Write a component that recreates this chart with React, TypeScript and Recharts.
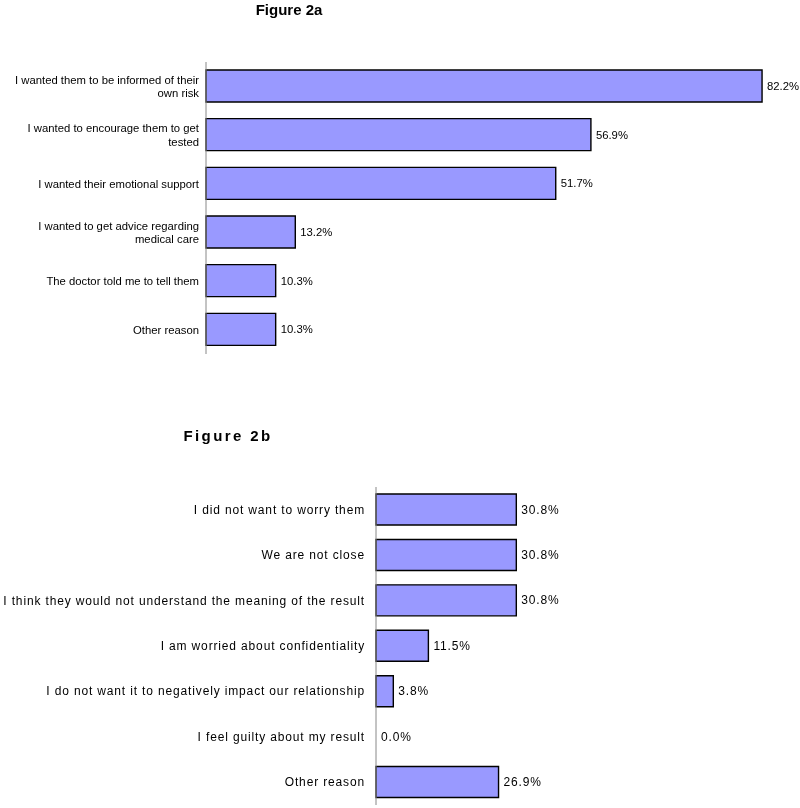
import React from "react"
import { BarChart, Bar, XAxis, YAxis, Rectangle } from "recharts"

const reasonsTold = [
  "I wanted them to be informed of their own risk",
  "I wanted to encourage them to get tested",
  "I wanted their emotional support",
  "I wanted to get advice regarding medical care",
  "The doctor told me to tell them",
  "Other reason",
]
const toldPct = [82.2, 56.9, 51.7, 13.2, 10.3, 10.3]

const reasonsNotTold = [
  "I did not want to worry them",
  "We are not close",
  "I think they would not understand the meaning of the result",
  "I am worried about confidentiality",
  "I do not want it to negatively impact our relationship",
  "I feel guilty about my result",
  "Other reason",
]
const notToldPct = [30.8, 30.8, 30.8, 11.5, 3.8, 0.0, 26.9]

const dataA = reasonsTold.map((reason, i) => ({ reason, pct: toldPct[i] }))
const dataB = reasonsNotTold.map((reason, i) => ({ reason, pct: notToldPct[i] }))

const FONT = "'Liberation Sans', Arial, sans-serif"

let ctx: CanvasRenderingContext2D | null = null
function measure(s: string, size: number, spacing: number) {
  if (!ctx) ctx = document.createElement("canvas").getContext("2d")
  if (!ctx) return s.length * size * 0.5
  ctx.font = `${size}px 'Liberation Sans', Arial, sans-serif`
  return ctx.measureText(s).width + s.length * spacing
}

function wrapWords(text: string, maxW: number, size: number, spacing: number) {
  const lines: string[] = []
  let cur = ""
  for (const w of text.split(" ")) {
    const test = cur ? cur + " " + w : w
    if (cur && measure(test, size, spacing) > maxW) {
      lines.push(cur)
      cur = w
    } else cur = test
  }
  if (cur) lines.push(cur)
  return lines
}

function WrapTick({ x, y, payload, wrap, size, spacing }: any) {
  const lines = wrapWords(String(payload.value), wrap, size, spacing)
  const lh = 13.5
  const top = y + 4 - ((lines.length - 1) * lh) / 2
  return (
    <text x={x} y={top} textAnchor="end" fontSize={size} fontFamily={FONT} fill="#000" style={{ letterSpacing: spacing }}>
      {lines.map((l, i) => (
        <tspan key={i} x={x} y={top + i * lh}>
          {l}
        </tspan>
      ))}
    </text>
  )
}

// bar + its value label, so a 0% row still gets its label
function BarWithLabel(props: any) {
  const { x, y, width, height, value, size, spacing } = props
  const v = Array.isArray(value) ? value[1] - value[0] : value
  return (
    <g>
      {width > 0 && (
        <Rectangle x={x} y={y} width={width} height={height} fill="#9999ff" stroke="#000" strokeWidth={1.4} />
      )}
      <text
        x={x + width + 5}
        y={y + height / 2 + 4}
        fontSize={size}
        fontFamily={FONT}
        fill="#000"
        style={{ letterSpacing: spacing }}
      >
        {`${Number(v).toFixed(1)}%`}
      </text>
    </g>
  )
}

export default function App() {
  return (
    <div style={{ position: "fixed", left: 0, top: 8, width: 800, height: 800, fontFamily: FONT }}>
      <div style={{ position: "absolute", left: 0, top: 0 }}>
        <BarChart
          width={800}
          height={360}
          layout="vertical"
          data={dataA}
          margin={{ top: 54, right: 19, bottom: 14, left: 0 }}
          barSize={32}
        >
          <XAxis type="number" domain={[0, 85]} hide />
          <YAxis
            type="category"
            dataKey="reason"
            width={206}
            axisLine={{ stroke: "#888" }}
            tickLine={false}
            tickSize={0}
            tickMargin={7}
            interval={0}
            tick={<WrapTick wrap={192} size={11.3} spacing={0} />}
          />
          <Bar
            dataKey="pct"
            fill="#9999ff"
            isAnimationActive={false}
            shape={<BarWithLabel size={11.3} spacing={0} />}
          />
        </BarChart>
      </div>

      <div style={{ position: "absolute", left: 0, top: 432 }}>
        <BarChart
          width={800}
          height={368}
          layout="vertical"
          data={dataB}
          margin={{ top: 47, right: 14, bottom: 3, left: 0 }}
          barSize={31}
        >
          <XAxis type="number" domain={[0, 90]} hide />
          <YAxis
            type="category"
            dataKey="reason"
            width={376}
            axisLine={{ stroke: "#888" }}
            tickLine={false}
            tickSize={0}
            tickMargin={11}
            interval={0}
            tick={<WrapTick wrap={420} size={12} spacing={0.85} />}
          />
          <Bar
            dataKey="pct"
            fill="#9999ff"
            isAnimationActive={false}
            shape={<BarWithLabel size={12} spacing={0.85} />}
          />
        </BarChart>
      </div>

      <div
        style={{
          position: "absolute",
          left: 253,
          top: -7,
          width: 72,
          textAlign: "center",
          fontWeight: "bold",
          fontSize: 15,
        }}
      >
        Figure 2a
      </div>
      <div
        style={{
          position: "absolute",
          left: 178,
          top: 419,
          width: 100,
          textAlign: "center",
          fontWeight: "bold",
          fontSize: 15,
          letterSpacing: 2.4,
        }}
      >
        Figure 2b
      </div>
    </div>
  )
}
